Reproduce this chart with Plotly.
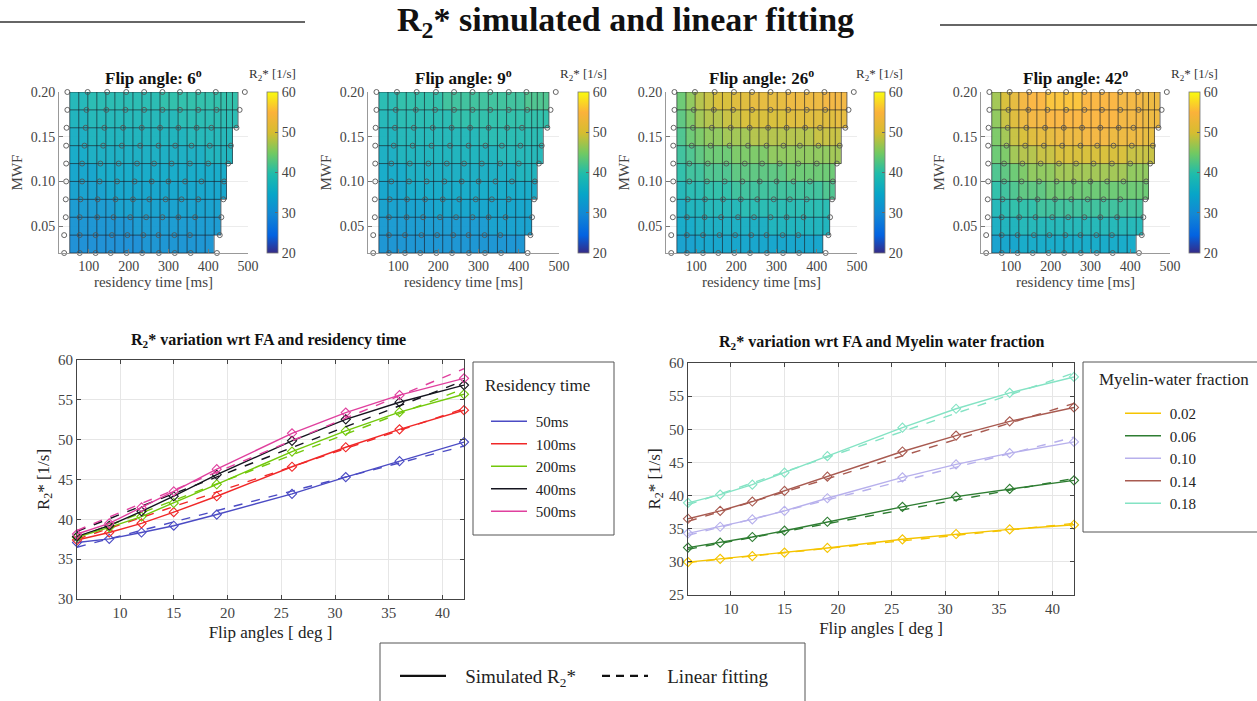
import plotly.graph_objects as go

W, H = 1257, 701
SERIF = "Liberation Serif, DejaVu Serif, serif"

# ---------------- data: line charts ----------------
FA = [6, 9, 12, 15, 19, 26, 31, 36, 42]

RT_LABELS = ["50ms", "100ms", "200ms", "400ms", "500ms"]
RT_COLORS = ["#4b4bc4", "#f02828", "#72c80a", "#15151f", "#e0409e"]
RT_50 = [37.1, 37.55, 38.35, 39.2, 40.6, 43.2, 45.3, 47.3, 49.7]
RT_100 = [37.4, 38.35, 39.5, 40.9, 42.9, 46.6, 49.05, 51.3, 53.7]
RT_200 = [37.75, 39.0, 40.35, 42.05, 44.4, 48.5, 51.1, 53.45, 55.7]
RT_400 = [37.85, 39.2, 41.0, 42.9, 45.6, 49.85, 52.55, 54.7, 56.85]
RT_500 = [38.15, 39.5, 41.5, 43.5, 46.3, 50.8, 53.4, 55.6, 57.7]
RT_SIM = [RT_50, RT_100, RT_200, RT_400, RT_500]
RT_FIT_START = [36.5, 37.5, 37.7, 38.5, 38.6]   # fitted value at FA = 6
RT_FIT_END = [49.2, 53.9, 56.4, 57.4, 58.9]     # fitted value at FA = 42

MWF_LABELS = ["0.02", "0.06", "0.10", "0.14", "0.18"]
MWF_COLORS = ["#f5c400", "#2e7d32", "#b7b0ec", "#a85a50", "#84e3c4"]
MWF_002 = [29.96, 30.45, 30.86, 31.4, 32.1, 33.4, 34.2, 34.9, 35.6]
MWF_006 = [32.15, 32.9, 33.75, 34.7, 36.05, 38.3, 39.85, 41.0, 42.3]
MWF_010 = [34.3, 35.3, 36.4, 37.7, 39.6, 42.75, 44.7, 46.4, 48.1]
MWF_014 = [36.5, 37.7, 39.1, 40.7, 42.85, 46.65, 49.05, 51.2, 53.3]
MWF_018 = [38.9, 40.15, 41.65, 43.45, 45.95, 50.25, 53.1, 55.5, 57.9]
MWF_SIM = [MWF_002, MWF_006, MWF_010, MWF_014, MWF_018]
MWF_FIT_START = [29.9, 31.9, 34.0, 36.1, 38.6]
MWF_FIT_END = [35.8, 42.6, 48.8, 53.9, 58.5]

# ---------------- data: heat maps ----------------
FLIP_ANGLES = [6, 9, 26, 42]
RT_EDGES = [52, 74.7, 97.4, 120.1, 142.8, 165.4, 188.1, 210.8, 233.5, 256.2, 278.9,
            301.6, 324.3, 346.9, 369.6, 392.3, 415, 432, 446, 461, 475]
MWF_EDGES = [0.02, 0.04, 0.06, 0.08, 0.10, 0.12, 0.14, 0.16, 0.18, 0.20]

Z_FA6 = [
    [30, 30, 30, 30, 30, 30, 30, 30, 31, 31, 31, 31, 31, 31, 31, 31],
    [31, 31, 31, 31, 31, 31, 31, 32, 32, 32, 32, 32, 32, 32, 32, 32, 32],
    [32, 32, 32, 32, 32, 33, 33, 33, 33, 33, 33, 33, 33, 33, 33, 33, 33],
    [33, 33, 33, 33, 34, 34, 34, 34, 34, 34, 34, 34, 34, 34, 34, 34, 34, 34],
    [34, 34, 34, 35, 35, 35, 35, 35, 35, 35, 35, 35, 35, 35, 35, 35, 35, 35],
    [35, 35, 36, 36, 36, 36, 36, 36, 36, 36, 36, 36, 36, 36, 36, 37, 37, 37, 37],
    [36, 36, 37, 37, 37, 37, 37, 37, 37, 37, 37, 37, 37, 38, 38, 38, 38, 38, 38],
    [37, 37, 38, 38, 38, 38, 38, 38, 38, 38, 38, 38, 39, 39, 39, 39, 39, 39, 39, 39],
    [38, 38, 39, 39, 39, 39, 39, 39, 39, 39, 40, 40, 40, 40, 40, 40, 40, 40, 40, 40],
]
Z_FA9 = [
    [31, 31, 31, 31, 31, 31, 31, 31, 31, 31, 31, 31, 31, 31, 31, 31],
    [32, 32, 32, 32, 32, 32, 32, 32, 32, 32, 32, 32, 33, 33, 33, 33, 33],
    [33, 33, 33, 33, 33, 33, 34, 34, 34, 34, 34, 34, 34, 34, 34, 34, 34],
    [34, 34, 34, 35, 35, 35, 35, 35, 35, 35, 35, 35, 35, 35, 35, 35, 35, 35],
    [35, 35, 35, 36, 36, 36, 36, 36, 36, 36, 36, 36, 36, 36, 36, 37, 37, 37],
    [36, 36, 37, 37, 37, 37, 37, 37, 37, 37, 37, 37, 37, 38, 38, 38, 38, 38, 38],
    [37, 37, 38, 38, 38, 38, 38, 38, 38, 38, 38, 39, 39, 39, 39, 39, 39, 39, 39],
    [38, 38, 39, 39, 39, 39, 39, 39, 40, 40, 40, 40, 40, 40, 40, 40, 40, 40, 40, 40],
    [39, 39, 40, 40, 40, 40, 40, 41, 41, 41, 41, 41, 41, 41, 41, 41, 42, 42, 42, 42],
]
Z_FA26 = [
    [33, 33, 34, 34, 34, 34, 34, 34, 34, 34, 34, 34, 34, 34, 34, 34],
    [35, 35, 36, 36, 36, 36, 36, 36, 36, 36, 37, 37, 37, 37, 37, 37, 37],
    [36, 37, 37, 38, 38, 38, 38, 39, 39, 39, 39, 39, 39, 39, 39, 39, 39],
    [38, 39, 39, 40, 40, 40, 41, 41, 41, 41, 41, 41, 41, 41, 41, 41, 42, 42],
    [40, 41, 41, 42, 42, 42, 43, 43, 43, 43, 43, 43, 44, 44, 44, 44, 44, 44],
    [41, 42, 43, 44, 44, 44, 45, 45, 45, 45, 46, 46, 46, 46, 46, 46, 46, 47, 47],
    [42, 44, 45, 46, 46, 47, 47, 47, 48, 48, 48, 48, 48, 48, 48, 49, 49, 49, 49],
    [43, 45, 47, 48, 48, 49, 49, 50, 50, 50, 50, 50, 51, 51, 51, 51, 51, 51, 52, 52],
    [44, 46, 48, 49, 50, 50, 51, 51, 52, 52, 52, 52, 53, 53, 53, 53, 54, 54, 54, 54],
]
Z_FA42 = [
    [33, 34, 34, 35, 35, 35, 35, 35, 35, 35, 35, 35, 35, 35, 35, 35],
    [36, 37, 37, 38, 38, 38, 38, 38, 38, 38, 38, 38, 38, 38, 38, 38, 38],
    [38, 39, 40, 40, 40, 41, 41, 41, 41, 41, 41, 41, 41, 41, 41, 41, 41],
    [40, 41, 42, 43, 43, 43, 44, 44, 44, 44, 44, 44, 44, 44, 44, 44, 44, 44],
    [42, 43, 44, 45, 46, 46, 46, 47, 47, 47, 47, 47, 47, 47, 47, 46, 46, 46],
    [44, 45, 47, 48, 48, 49, 49, 50, 50, 50, 50, 50, 50, 50, 50, 49, 49, 49, 49],
    [45, 47, 49, 50, 51, 52, 52, 53, 53, 53, 54, 54, 54, 53, 53, 53, 53, 52, 52],
    [46, 49, 51, 53, 54, 54, 55, 55, 55, 55, 55, 55, 55, 55, 54, 54, 54, 53, 53, 53],
    [47, 50, 52, 54, 55, 55, 56, 56, 56, 56, 55, 55, 55, 55, 54, 54, 54, 53, 53, 53],
]
Z_ALL = [Z_FA6, Z_FA9, Z_FA26, Z_FA42]

# simulated sample points (circles)
CIRC_MWF = [0.02, 0.04, 0.06, 0.08, 0.10, 0.12, 0.14, 0.16, 0.18, 0.20]
CIRC_RT = [
    [38, 77, 117, 155, 195, 234, 276, 316, 356, 422],
    [38, 77, 117, 158, 197, 237, 275, 315, 354, 429],
    [42, 77, 121, 162, 204, 244, 285, 325, 367, 433],
    [42, 79, 122, 167, 211, 252, 293, 333, 375, 438],
    [43, 83, 127, 171, 215, 258, 300, 342, 383, 440],
    [43, 83, 129, 175, 221, 264, 308, 354, 400, 450],
    [43, 89, 136, 183, 229, 275, 317, 358, 404, 457],
    [44, 92, 139, 186, 233, 279, 325, 371, 408, 471],
    [46, 94, 144, 192, 239, 285, 329, 375, 421, 479],
    [46, 97, 146, 194, 239, 285, 329, 375, 419, 492],
]

# MATLAB parula approximation
PARULA = [[0.0, "#352a87"], [0.11, "#0363e1"], [0.238, "#1287d5"], [0.365, "#07a5c8"],
          [0.492, "#1fbcab"], [0.619, "#71c962"], [0.746, "#d6bd30"], [0.873, "#fbb23a"],
          [1.0, "#f9fb0e"]]

# ---------------- layout helpers (pixel positions) ----------------
def fx(p):
    return p / W


def fy(p):
    return 1 - p / H


HM_X = [(59, 248), (368, 559), (666, 857), (981, 1170)]
HM_Y = (92, 253)
CB_X = [267, 578, 874, 1189]

fig = go.Figure()
layout = dict(width=W, height=H, margin=dict(l=0, r=0, t=0, b=0, autoexpand=False),
              paper_bgcolor="white", plot_bgcolor="white",
              font=dict(family=SERIF, color="#333"), showlegend=True)
annotations = []
shapes = []

for i, (fa, Z) in enumerate(zip(FLIP_ANGLES, Z_ALL)):
    n = i + 1
    xa = "x" if n == 1 else f"x{n}"
    ya = "y" if n == 1 else f"y{n}"
    ncols = len(RT_EDGES) - 1
    zfull = [row + [None] * (ncols - len(row)) for row in Z]
    fig.add_trace(go.Heatmap(
        x=RT_EDGES, y=MWF_EDGES, z=zfull, zmin=20, zmax=60, colorscale=PARULA,
        opacity=0.93, xaxis=xa, yaxis=ya, hoverinfo="skip",
        colorbar=dict(x=fx(CB_X[i]), xanchor="left", y=fy((HM_Y[0] + HM_Y[1]) / 2),
                      yanchor="middle", len=HM_Y[1] - HM_Y[0], lenmode="pixels",
                      thickness=11, thicknessmode="pixels", xpad=0, ypad=0,
                      tickvals=[20, 30, 40, 50, 60], ticks="inside", ticklen=3,
                      tickcolor="#666", outlinewidth=0.8, outlinecolor="#777",
                      tickfont=dict(family=SERIF, size=14, color="#444"))))
    # surface edge lines built from the grid
    counts = [len(r) for r in Z]
    lx, ly = [], []
    for j, yv in enumerate(MWF_EDGES):
        adj = []
        if j - 1 >= 0:
            adj.append(counts[j - 1])
        if j < len(counts):
            adj.append(counts[j])
        lx += [RT_EDGES[0], RT_EDGES[max(adj)], None]
        ly += [yv, yv, None]
    for k, xv in enumerate(RT_EDGES):
        first = next(b for b, c in enumerate(counts) if c >= k)
        lx += [xv, xv, None]
        ly += [MWF_EDGES[first], MWF_EDGES[-1], None]
    fig.add_trace(go.Scatter(x=lx, y=ly, mode="lines", xaxis=xa, yaxis=ya,
                             line=dict(color="rgba(25,25,35,0.7)", width=0.9),
                             showlegend=False, hoverinfo="skip"))
    cx, cy = [], []
    for mwf, rts in zip(CIRC_MWF, CIRC_RT):
        cx += rts
        cy += [mwf] * len(rts)
    fig.add_trace(go.Scatter(x=cx, y=cy, mode="markers", xaxis=xa, yaxis=ya,
                             cliponaxis=False, showlegend=False, hoverinfo="skip",
                             marker=dict(symbol="circle-open", size=5,
                                         color="#555", line=dict(width=0.9))))
    x0, x1 = HM_X[i]
    layout["xaxis" if n == 1 else f"xaxis{n}"] = dict(
        domain=[fx(x0), fx(x1)], anchor=ya, range=[25, 500],
        tickvals=[100, 200, 300, 400, 500], ticks="inside", ticklen=4, tickcolor="#777",
        showline=True, linecolor="#999", linewidth=1, showgrid=True, gridcolor="#ececec",
        zeroline=False, tickfont=dict(family=SERIF, size=14, color="#444"),
        title=dict(text="residency time [ms]", font=dict(family=SERIF, size=15, color="#444"),
                   standoff=2))
    layout["yaxis" if n == 1 else f"yaxis{n}"] = dict(
        domain=[fy(HM_Y[1]), fy(HM_Y[0])], anchor=xa, range=[0.02, 0.20],
        tickvals=[0.05, 0.10, 0.15, 0.20], ticktext=["0.05", "0.10", "0.15", "0.20"],
        ticks="inside", ticklen=4, tickcolor="#777",
        showline=True, linecolor="#999", linewidth=1, showgrid=True, gridcolor="#ececec",
        zeroline=False, tickfont=dict(family=SERIF, size=14, color="#444"),
        title=dict(text="MWF", font=dict(family=SERIF, size=15, color="#444"), standoff=4))
    annotations.append(dict(text=f"<b>Flip angle: {fa}<sup>o</sup></b>", x=fx((x0 + x1) / 2),
                            y=fy(77), xref="paper", yref="paper", showarrow=False,
                            xanchor="center", yanchor="middle",
                            font=dict(family=SERIF, size=17, color="#111")))
    annotations.append(dict(text="R<sub>2</sub>* [1/s]", x=fx(CB_X[i] + 5.5), y=fy(74),
                            xref="paper", yref="paper", showarrow=False,
                            xanchor="center", yanchor="middle",
                            font=dict(family=SERIF, size=13, color="#333")))

# ---------------- line charts ----------------
def add_line_chart(sims, labels, colors, fstart, fend, xa, ya, legend):
    for sim, lab, col, a, b in zip(sims, labels, colors, fstart, fend):
        fig.add_trace(go.Scatter(x=[FA[0], FA[-1]], y=[a, b], mode="lines", xaxis=xa, yaxis=ya,
                                 line=dict(color=col, width=1.4, dash="dash"),
                                 showlegend=False, hoverinfo="skip"))
        fig.add_trace(go.Scatter(x=FA, y=sim, mode="lines", name="\u00a0" + lab, xaxis=xa,
                                 yaxis=ya, line=dict(color=col, width=1.4), legend=legend,
                                 hoverinfo="skip"))
        fig.add_trace(go.Scatter(x=FA, y=sim, mode="markers", xaxis=xa, yaxis=ya,
                                 cliponaxis=False, showlegend=False, hoverinfo="skip",
                                 marker=dict(symbol="diamond-open", size=7, color=col,
                                             line=dict(width=1.1, color=col))))


add_line_chart(RT_SIM, RT_LABELS, RT_COLORS, RT_FIT_START, RT_FIT_END, "x5", "y5", "legend")
add_line_chart(MWF_SIM, MWF_LABELS, MWF_COLORS, MWF_FIT_START, MWF_FIT_END, "x6", "y6", "legend2")

# style legend keys
fig.add_trace(go.Scatter(x=[None], y=[None], mode="lines",
                         name="\u00a0\u00a0\u00a0Simulated R<sub>2</sub>*",
                         line=dict(color="#111", width=2.4), legend="legend3",
                         xaxis="x6", yaxis="y6"))
fig.add_trace(go.Scatter(x=[None], y=[None], mode="lines",
                         name="\u00a0\u00a0\u00a0Linear fitting",
                         line=dict(color="#111", width=2.4, dash="8px,6px"), legend="legend3",
                         xaxis="x6", yaxis="y6"))


def line_axes(xdom, ydom, yrange, ya_name, xa_name):
    ax = dict(domain=[fx(xdom[0]), fx(xdom[1])], anchor=ya_name, range=[6, 42],
              tickvals=[10, 15, 20, 25, 30, 35, 40], ticks="inside", ticklen=4,
              tickcolor="#444", showline=True, mirror="ticks", linecolor="#444", linewidth=1,
              showgrid=True, gridcolor="#e6e6e6", zeroline=False,
              tickfont=dict(family=SERIF, size=15, color="#444"),
              title=dict(text="Flip angles [ deg ]", font=dict(family=SERIF, size=17, color="#222"),
                         standoff=6))
    ay = dict(domain=[fy(ydom[1]), fy(ydom[0])], anchor=xa_name, range=yrange, dtick=5,
              ticks="inside", ticklen=4, tickcolor="#444", showline=True, mirror="ticks",
              linecolor="#444", linewidth=1, showgrid=True, gridcolor="#e6e6e6",
              zeroline=False, tickfont=dict(family=SERIF, size=15, color="#444"),
              title=dict(text="R<sub>2</sub>* [1/s]", font=dict(family=SERIF, size=17, color="#222"),
                         standoff=4))
    return ax, ay


layout["xaxis5"], layout["yaxis5"] = line_axes((77, 464), (360, 599), [30, 60], "y5", "x5")
layout["xaxis6"], layout["yaxis6"] = line_axes((688, 1074), (363, 595), [25, 60], "y6", "x6")

annotations.append(dict(text="<b>R<sub>2</sub>* variation wrt FA and residency time</b>",
                        x=fx(268), y=fy(340), xref="paper", yref="paper", showarrow=False,
                        xanchor="center", yanchor="middle",
                        font=dict(family=SERIF, size=16, color="#111")))
annotations.append(dict(text="<b>R<sub>2</sub>* variation wrt FA and Myelin water fraction</b>",
                        x=fx(882), y=fy(343), xref="paper", yref="paper", showarrow=False,
                        xanchor="center", yanchor="middle",
                        font=dict(family=SERIF, size=16, color="#111")))

# main title and rules
annotations.append(dict(text="<b>R<sub>2</sub>* simulated and linear fitting</b>",
                        x=fx(625), y=fy(22), xref="paper", yref="paper", showarrow=False,
                        xanchor="center", yanchor="middle",
                        font=dict(family=SERIF, size=34, color="#111")))
shapes.append(dict(type="line", xref="paper", yref="paper", x0=fx(0), x1=fx(305),
                   y0=fy(22), y1=fy(22), line=dict(color="#333", width=1.3)))
shapes.append(dict(type="line", xref="paper", yref="paper", x0=fx(940), x1=fx(1257),
                   y0=fy(25), y1=fy(25), line=dict(color="#333", width=1.3)))

# legend boxes and titles
shapes.append(dict(type="rect", xref="paper", yref="paper", x0=fx(473), x1=fx(614),
                   y0=fy(535), y1=fy(362), line=dict(color="#555", width=1)))
shapes.append(dict(type="rect", xref="paper", yref="paper", x0=fx(1083), x1=fx(1262),
                   y0=fy(532), y1=fy(362), line=dict(color="#555", width=1)))
shapes.append(dict(type="rect", xref="paper", yref="paper", x0=fx(380), x1=fx(805),
                   y0=fy(710), y1=fy(643), line=dict(color="#555", width=1)))
annotations.append(dict(text="Residency time", x=fx(483), y=fy(385), xref="paper", yref="paper",
                        showarrow=False, xanchor="left", yanchor="middle",
                        font=dict(family=SERIF, size=17, color="#222")))
annotations.append(dict(text="Myelin-water fraction", x=fx(1097), y=fy(379), xref="paper",
                        yref="paper", showarrow=False, xanchor="left", yanchor="middle",
                        font=dict(family=SERIF, size=17, color="#222")))

leg_common = dict(bgcolor="rgba(0,0,0,0)", borderwidth=0, xanchor="left", yanchor="top",
                  font=dict(family=SERIF, size=15, color="#222"), itemwidth=36,
                  tracegroupgap=0)
layout["legend"] = dict(leg_common, x=fx(486), y=fy(405))
layout["legend2"] = dict(leg_common, x=fx(1120), y=fy(397))
layout["legend3"] = dict(leg_common, x=fx(395), y=fy(657), orientation="h",
                         font=dict(family=SERIF, size=19, color="#222"), itemwidth=46,
                         entrywidth=141, entrywidthmode="pixels")

layout["annotations"] = annotations
layout["shapes"] = shapes
fig.update_layout(**layout)
fig.write_html("out.html")
